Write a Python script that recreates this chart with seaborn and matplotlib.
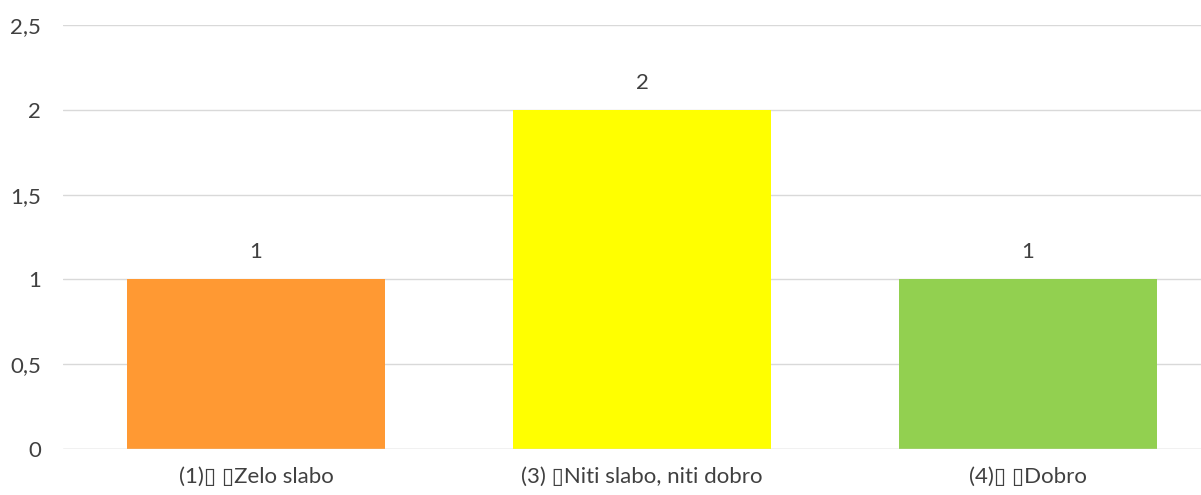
import matplotlib
matplotlib.use("Agg")
import matplotlib.pyplot as plt
import seaborn as sns
import pandas as pd
from matplotlib.ticker import FuncFormatter

categories = ["(1)\u25af \u25afZelo slabo", "(3) \u25afNiti slabo, niti dobro", "(4)\u25af \u25afDobro"]
values = [1, 2, 1]
colors = ["#FF9933", "#FFFF00", "#92D050"]
yticks = [0, 0.5, 1, 1.5, 2, 2.5]

sns.set_theme(style="white")
plt.rcParams['font.family'] = ['Lato', 'DejaVu Sans']

df = pd.DataFrame({"cat": categories, "val": values})

fig = plt.figure(figsize=(12.01, 4.95), dpi=100)
ax = fig.add_axes([63/1201, 1 - 449/495, (1221 - 63)/1201, (449 - 25)/495])

sns.barplot(data=df, x="cat", y="val", hue="cat", palette=colors, legend=False,
            width=0.668, ax=ax, saturation=1, edgecolor="none", zorder=3)

ax.set_xlim(-0.5, 2.5)
ax.set_ylim(0, 2.5)
ax.set_yticks(yticks)
ax.yaxis.set_major_formatter(FuncFormatter(lambda v, p: ("%g" % v).replace(".", ",")))
ax.grid(axis="y", color="#D9D9D9", linewidth=1, zorder=0)
ax.grid(axis="x", visible=False)
for s in ["top", "right", "left", "bottom"]:
    ax.spines[s].set_visible(False)
ax.axhline(0, color="#D9D9D9", linewidth=1, zorder=4)
ax.tick_params(axis="both", length=0, labelsize=16, colors="#404040")
ax.tick_params(axis="x", pad=13)
ax.tick_params(axis="y", pad=16)
ax.set_xlabel("")
ax.set_ylabel("")

for i, v in enumerate(values):
    ax.text(i, v + 0.16, ("%g" % v).replace(".", ","), ha="center", va="center",
            fontsize=16, color="#404040")

fig.savefig("out.png", dpi=100)
